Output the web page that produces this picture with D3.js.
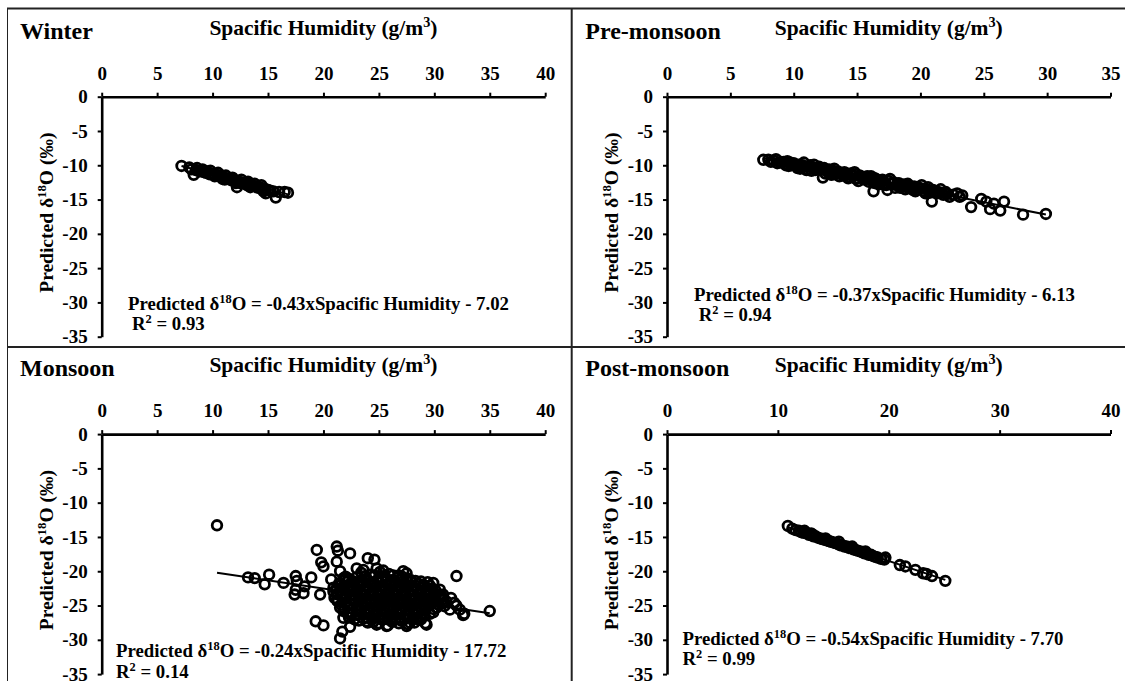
<!DOCTYPE html>
<html>
<head>
<meta charset="utf-8">
<script src="https://cdn.jsdelivr.net/npm/d3@7"></script>
<style>
  body { margin: 0; background: #fff; }
  svg text { font-family: "Liberation Serif", "Times New Roman", serif; font-weight: bold; fill: #000; }
</style>
</head>
<body>
<div id="main"></div>
<script>
// ---- data ----
const seasons = ["Winter", "Pre-monsoon", "Monsoon", "Post-monsoon"];
const xMaxes = [40, 35, 40, 40];
const xTickValues = [
    [0, 5, 10, 15, 20, 25, 30, 35, 40],
    [0, 5, 10, 15, 20, 25, 30, 35],
    [0, 5, 10, 15, 20, 25, 30, 35, 40],
    [0, 10, 20, 30, 40]
];
const yTickValues = [0, -5, -10, -15, -20, -25, -30, -35];
const slopes = [-0.43, -0.37, -0.24, -0.54];
const intercepts = [-7.02, -6.13, -17.72, -7.70];
const rSquared = ["0.93", "0.94", "0.14", "0.99"];

const winterPts = [
    [7.2,-10.1],[7.9,-10.3],[8.1,-10.6],[8.3,-11.4],[8.5,-10.7],[8.8,-10.9],[9.0,-10.8],[9.2,-11.0],
    [9.4,-11.1],[9.5,-10.9],[9.7,-11.3],[9.9,-11.2],[10.1,-11.3],[10.2,-11.6],[10.4,-11.4],[10.6,-11.6],
    [10.8,-11.5],[11.0,-11.8],[11.1,-12.1],[11.3,-11.9],[11.5,-12.0],[11.7,-12.2],[11.9,-12.1],[12.0,-12.4],
    [12.2,-13.2],[12.3,-12.3],[12.5,-12.6],[12.7,-12.5],[12.9,-12.6],[13.1,-12.9],[13.3,-12.7],[13.5,-13.0],
    [13.7,-13.0],[13.9,-13.1],[14.1,-13.3],[14.3,-13.2],[14.5,-13.5],[14.7,-13.4],[14.8,-14.1],[15.0,-13.6],
    [15.2,-13.7],[15.5,-13.8],[15.7,-14.7],[16.0,-13.9],[16.5,-13.9],[16.8,-14.0],
    [8.6,-10.4],[9.1,-10.6],[9.8,-10.8],[10.5,-11.1],[11.2,-11.5],[11.8,-11.8],[12.6,-12.1],[13.2,-12.4],
    [13.8,-12.7],[14.4,-12.9],[10.9,-12.0],[12.1,-12.6],[13.4,-13.2],[14.6,-13.8]
];

const preMonsoonPts = [
    [7.6,-9.2],[8.6,-9.1],[8.7,-9.7],[9.0,-9.5],[9.3,-9.8],[9.5,-9.4],[9.8,-10.0],[10.0,-9.7],
    [10.2,-10.1],[10.4,-9.9],[10.6,-10.3],[10.8,-9.6],[11.0,-10.2],[11.1,-10.6],[11.3,-10.0],[11.5,-10.4],
    [11.7,-10.7],[11.9,-10.3],[12.1,-10.6],[12.3,-11.8],[12.4,-10.4],[12.6,-10.9],[12.8,-10.6],[13.0,-11.1],
    [13.1,-10.8],[13.3,-11.3],[13.5,-10.9],[13.7,-11.2],[13.9,-11.5],[14.0,-11.0],[14.2,-11.4],[14.4,-11.7],
    [14.5,-11.2],[14.7,-11.6],[14.9,-11.3],[15.0,-11.9],[15.2,-11.5],[15.4,-11.8],[15.6,-12.1],[15.8,-11.6],
    [16.0,-12.0],[16.2,-12.3],[16.3,-13.8],[16.4,-11.9],[16.6,-12.2],[16.8,-12.5],[17.0,-12.1],[17.2,-12.6],
    [17.4,-13.6],[17.5,-12.3],[17.7,-12.7],[17.9,-12.5],[18.1,-12.9],[18.3,-12.6],[18.5,-13.1],[18.7,-12.8],
    [18.9,-13.2],[19.1,-13.0],[19.3,-13.4],[19.5,-13.1],[19.7,-13.6],[19.9,-13.3],[20.1,-12.9],[20.3,-13.8],
    [20.5,-13.5],[20.7,-14.0],[20.9,-15.3],[21.0,-13.6],[21.3,-14.1],[21.6,-13.5],[21.8,-14.3],[22.1,-14.2],
    [22.3,-14.6],[22.9,-14.1],[23.1,-14.6],[23.3,-14.4],[24.0,-16.1],[24.8,-14.9],[25.2,-15.3],[25.5,-16.4],
    [25.8,-15.6],[26.3,-16.6],[26.6,-15.3],[28.1,-17.2],[29.9,-17.1],
    [8.2,-9.5],[9.6,-10.1],[10.5,-10.5],[11.4,-10.8],[12.0,-10.2],[12.9,-11.3],[13.6,-11.6],[14.3,-11.9],
    [15.1,-12.3],[15.9,-12.4],[16.7,-12.8],[17.3,-12.9],[18.0,-13.3],[18.8,-13.5],[19.6,-13.8],[20.4,-14.1],
    [11.6,-9.9],[13.2,-10.5],[14.8,-11.0],[16.1,-11.6],[17.6,-12.0],[19.0,-12.7],[20.6,-13.2],[21.4,-13.9],
    [8.0,-9.2],[8.4,-9.3],[8.9,-9.6],[9.2,-9.5],[9.7,-9.6],[10.1,-9.9],[10.7,-10.0],[11.2,-10.2],
    [11.8,-10.5],[12.2,-10.5],[12.7,-10.7],[13.4,-11.0],[13.8,-11.2],[14.1,-11.2],[14.6,-11.4],[15.3,-11.6],
    [15.7,-11.8],[16.5,-12.0],[16.9,-12.3],[17.8,-12.6],[18.2,-12.7],[18.6,-12.9],[19.2,-13.1],[19.8,-13.2],
    [20.2,-13.4],[20.8,-13.7],[21.2,-13.8],[21.7,-14.0],[22.0,-13.9],[22.6,-14.3],[9.4,-10.0],[10.3,-10.4],
    [11.0,-10.7],[12.5,-11.2],[13.0,-11.4],[14.9,-12.0],[16.4,-12.6],[17.1,-12.8],[18.4,-13.3],[19.4,-13.6]
];

const monsoonPts = [
    [10.4,-13.3],[13.2,-20.9],[13.8,-21.0],[14.7,-21.9],[15.1,-20.5],[16.4,-21.7],[17.5,-20.7],[17.6,-21.4],
    [17.5,-22.7],[18.2,-23.2],[18.3,-22.2],[18.9,-20.9],[17.4,-23.4],[19.4,-16.9],[19.8,-18.7],[20.0,-19.3],
    [19.7,-23.4],[19.3,-27.3],[20.0,-27.9],[21.2,-16.4],[21.3,-17.0],[21.2,-18.6],[22.4,-17.4],[21.5,-29.8],
    [21.7,-28.8],[22.4,-28.1],[20.7,-21.2],[20.9,-22.4],[21.5,-20.0],[21.8,-21.0],[24.0,-18.1],[24.6,-18.3],
    [32.0,-20.7],[35.0,-25.8],[32.6,-26.4],[31.4,-25.6],[32.0,-25.0],[27.2,-20.0],[24.8,-19.6],[25.4,-19.9],
    [23.6,-19.8],[25.7,-28.0],[27.5,-28.0],[29.3,-27.8],[24.8,-27.8],[23.9,-27.3],[21.8,-26.8],[22.4,-26.3],
    [29.9,-21.7],[30.5,-22.7],[30.8,-23.4],[31.1,-24.4],[22.0,-20.8],[23.0,-19.6],[31.5,-23.9],[30.9,-25.1],
    [31.8,-24.6],[32.3,-25.6],[32.7,-26.2],
    [23.4,-20.2],[24.2,-20.5],[25.1,-20.1],[25.9,-20.4],[26.8,-20.6],[27.5,-20.3],
    [22.3,-21.1],[23.0,-20.9],[23.8,-21.2],[24.5,-20.8],[25.3,-21.0],[26.1,-21.3],[26.7,-20.9],[27.6,-21.1],[28.3,-21.4],
    [21.4,-21.8],[22.1,-21.5],[22.8,-21.9],[23.5,-21.6],[24.3,-21.8],[25.0,-21.5],[25.7,-21.9],[26.4,-21.6],
    [27.2,-21.8],[27.9,-21.5],[28.6,-21.9],[29.4,-21.6],
    [21.2,-22.5],[21.9,-22.2],[22.6,-22.6],[23.3,-22.3],[24.0,-22.5],[24.8,-22.2],[25.5,-22.6],[26.2,-22.3],
    [26.9,-22.5],[27.7,-22.2],[28.4,-22.6],[29.1,-22.3],[29.8,-22.5],
    [20.9,-23.0],[21.6,-23.3],[22.3,-22.9],[23.0,-23.2],[23.8,-23.0],[24.5,-23.3],[25.2,-22.9],[25.9,-23.2],
    [26.6,-23.0],[27.4,-23.3],[28.1,-22.9],[28.8,-23.2],[29.5,-23.0],[30.2,-23.3],
    [21.0,-23.9],[21.7,-23.6],[22.4,-24.0],[23.2,-23.7],[23.9,-23.9],[24.6,-23.6],[25.4,-24.0],[26.1,-23.7],
    [26.8,-23.9],[27.5,-23.6],[28.3,-24.0],[29.0,-23.7],[29.7,-23.9],[30.4,-23.6],
    [21.3,-24.4],[22.0,-24.7],[22.8,-24.3],[23.5,-24.6],[24.2,-24.4],[25.0,-24.7],[25.7,-24.3],[26.4,-24.6],
    [27.1,-24.4],[27.9,-24.7],[28.6,-24.3],[29.3,-24.6],[30.0,-24.4],[30.7,-24.7],
    [21.5,-25.3],[22.2,-25.0],[23.0,-25.4],[23.7,-25.1],[24.4,-25.3],[25.2,-25.0],[25.9,-25.4],[26.6,-25.1],
    [27.3,-25.3],[28.0,-25.0],[28.8,-25.4],[29.5,-25.1],[30.2,-25.3],
    [21.8,-25.8],[22.6,-26.1],[23.4,-25.7],[24.1,-26.0],[24.8,-25.8],[25.6,-26.1],[26.3,-25.7],[27.0,-26.0],
    [27.7,-25.8],[28.5,-26.1],[29.2,-25.7],[29.9,-26.0],
    [22.3,-26.7],[23.1,-26.4],[24.0,-26.8],[24.7,-26.5],[25.4,-26.7],[26.1,-26.4],[26.9,-26.8],[27.6,-26.5],
    [28.4,-26.7],[29.1,-26.4],
    [23.2,-27.2],[24.5,-27.4],[25.3,-27.1],[26.2,-27.4],[27.0,-27.2],[27.8,-27.5],[28.6,-27.1],
    [25.8,-27.9],[27.6,-27.7],[29.2,-27.6],
    [23.8,-20.7],[24.6,-20.6],[25.5,-20.7],[26.3,-20.6],[27.1,-20.8],
    [21.9,-21.3],[22.6,-21.4],[23.4,-21.3],[24.1,-21.4],[24.9,-21.3],[25.7,-21.4],[26.4,-21.3],[27.2,-21.4],
    [27.9,-21.3],[28.8,-21.5],
    [21.6,-22.0],[22.4,-22.1],[23.1,-22.0],[23.9,-22.1],[24.6,-22.0],[25.3,-22.1],[26.1,-22.0],[26.8,-22.1],
    [27.5,-22.0],[28.3,-22.1],[29.0,-22.0],[29.6,-22.1],
    [21.5,-22.8],[22.2,-22.7],[23.0,-22.8],[23.7,-22.7],[24.4,-22.8],[25.1,-22.7],[25.9,-22.8],[26.6,-22.7],
    [27.3,-22.8],[28.0,-22.7],[28.8,-22.8],[29.5,-22.7],[30.1,-22.8],
    [21.3,-23.4],[22.0,-23.5],[22.7,-23.4],[23.5,-23.5],[24.2,-23.4],[24.9,-23.5],[25.6,-23.4],[26.4,-23.5],
    [27.1,-23.4],[27.8,-23.5],[28.6,-23.4],[29.3,-23.5],[30.0,-23.4],[30.6,-23.5],
    [21.2,-24.2],[21.9,-24.1],[22.7,-24.2],[23.5,-24.1],[24.2,-24.2],[25.0,-24.1],[25.7,-24.2],[26.4,-24.1],
    [27.2,-24.2],[27.9,-24.1],[28.6,-24.2],[29.3,-24.1],[30.1,-24.2],[30.8,-24.1],
    [21.6,-24.9],[22.4,-24.8],[23.1,-24.9],[23.9,-24.8],[24.6,-24.9],[25.3,-24.8],[26.0,-24.9],[26.8,-24.8],
    [27.5,-24.9],[28.2,-24.8],[29.0,-24.9],[29.7,-24.8],[30.4,-24.9],
    [21.9,-25.6],[22.6,-25.5],[23.3,-25.6],[24.1,-25.5],[24.8,-25.6],[25.5,-25.5],[26.3,-25.6],[27.0,-25.5],
    [27.7,-25.6],[28.4,-25.5],[29.1,-25.6],[29.9,-25.5],
    [22.2,-26.2],[23.0,-26.3],[23.8,-26.2],[24.5,-26.3],[25.2,-26.2],[26.0,-26.3],[26.7,-26.2],[27.4,-26.3],
    [28.1,-26.2],[28.9,-26.3],[29.6,-26.2],
    [22.8,-27.0],[23.6,-26.9],[24.4,-27.0],[25.1,-26.9],[25.8,-27.0],[26.5,-26.9],[27.3,-27.0],[28.0,-26.9],
    [28.8,-27.0],
    [24.0,-27.5],[25.0,-27.6],[26.8,-27.6],[28.2,-27.5]
];

const postMonsoonPts = [
    [10.9,-13.4],[11.3,-13.8],[11.6,-14.0],[11.9,-14.1],[12.1,-14.3],[12.3,-14.4],[12.6,-14.4],[12.8,-14.7],
    [13.0,-14.5],[13.2,-14.9],[13.4,-14.9],[13.6,-15.1],[13.8,-15.2],[14.0,-15.3],[14.2,-15.4],[14.4,-15.5],
    [14.6,-15.6],[14.8,-15.7],[15.0,-15.8],[15.2,-15.9],[15.4,-16.0],[15.6,-16.2],[15.8,-16.2],[16.0,-16.4],
    [16.2,-16.4],[16.4,-16.6],[16.6,-16.6],[16.8,-16.8],[17.0,-16.9],[17.2,-17.0],[17.4,-17.1],[17.6,-17.2],
    [17.8,-17.4],[18.0,-17.4],[18.2,-17.6],[18.4,-17.6],[18.6,-17.8],[18.8,-17.9],[19.0,-18.0],[19.3,-18.2],
    [19.6,-18.3],[19.7,-18.0],[21.0,-19.1],[21.5,-19.3],[22.4,-19.8],[23.1,-20.3],[23.4,-20.4],[23.9,-20.7],
    [25.1,-21.4],[12.4,-14.1],[13.1,-14.6],[14.3,-15.2],[15.5,-15.7],[16.7,-16.4],[17.9,-17.1]
];

const seriesPts = [winterPts, preMonsoonPts, monsoonPts, postMonsoonPts];

// ---- layout ----
const W = 1125, H = 681;
const panelOrigin = [[0, 0], [565.3, 0], [0, 337.4], [565.3, 337.4]];
const plot = { left: 101.7, top: 96.7, width: 443.5, height: 240 };
const eqPos = [[128, 310, 132, 330], [128.7, 301, 133.4, 321], [116, 319.5, 116, 340.5], [117.2, 308, 117.2, 328]];

// text with superscript parts: parts = [[string, isSup], ...]
function richText(sel, parts, size) {
    let shift = 0;
    parts.forEach(([t, sup]) => {
        const target = sup ? -size * 0.38 : 0;
        sel.append("tspan")
            .attr("font-size", sup ? size * 0.66 : size)
            .attr("dy", target - shift)
            .text(t);
        shift = target;
    });
    return sel;
}

const svg = d3.select("#main").append("svg")
    .attr("width", W)
    .attr("height", H);

svg.append("rect").attr("width", W).attr("height", H).attr("fill", "#fff");

seasons.forEach((season, i) => {
    const [ox, oy] = panelOrigin[i];
    const g = svg.append("g").attr("transform", `translate(${ox},${oy})`);

    const x = d3.scaleLinear().domain([0, xMaxes[i]]).range([plot.left, plot.left + plot.width]);
    const y = d3.scaleLinear().domain([-35, 0]).range([plot.top + plot.height, plot.top]);

    // season title
    g.append("text").attr("x", 20).attr("y", 39).attr("font-size", 24).text(season);

    // x axis title
    richText(g.append("text")
        .attr("x", plot.left + plot.width / 2).attr("y", 35)
        .attr("text-anchor", "middle"),
        [["Spacific Humidity (g/m", false], ["3", true], [")", false]], 21.5);

    // y axis title
    richText(g.append("text")
        .attr("transform", `translate(53,${plot.top + plot.height / 2 - 4}) rotate(-90)`)
        .attr("text-anchor", "middle"),
        [["Predicted δ", false], ["18", true], ["O (‰)", false]], 19.5);

    const xAxis = d3.axisTop(x).tickValues(xTickValues[i]).tickFormat(d => String(d))
        .tickSize(4).tickSizeOuter(0).tickPadding(13);
    const yAxis = d3.axisLeft(y).tickValues(yTickValues).tickFormat(d => String(d))
        .tickSize(4).tickSizeOuter(0).tickPadding(10);

    const gx = g.append("g").attr("transform", `translate(0,${plot.top})`).call(xAxis);
    const gy = g.append("g").attr("transform", `translate(${plot.left},0)`).call(yAxis);
    [gx, gy].forEach(a => {
        a.attr("font-family", null).attr("font-size", null);
        a.select(".domain").attr("stroke", "#000").attr("stroke-width", 2.6);
        a.selectAll(".tick line").attr("stroke", "#000").attr("stroke-width", 2);
        a.selectAll(".tick text").attr("font-size", 19);
    });

    // points
    g.append("g").selectAll("circle")
        .data(seriesPts[i])
        .join("circle")
        .attr("cx", d => x(d[0]))
        .attr("cy", d => y(d[1]))
        .attr("r", 4.8)
        .attr("fill", "none")
        .attr("stroke", "#000")
        .attr("stroke-width", 2.8);

    // trend line over the data range
    const xr = d3.extent(seriesPts[i], d => d[0]);
    g.append("line")
        .attr("x1", x(xr[0])).attr("y1", y(slopes[i] * xr[0] + intercepts[i]))
        .attr("x2", x(xr[1])).attr("y2", y(slopes[i] * xr[1] + intercepts[i]))
        .attr("stroke", "#000")
        .attr("stroke-width", 2);

    // equation
    const [ex, ey, rx, ry] = eqPos[i];
    richText(g.append("text").attr("x", ex).attr("y", ey),
        [["Predicted δ", false], ["18", true],
         [`O = ${slopes[i].toFixed(2)}xSpacific Humidity - ${Math.abs(intercepts[i]).toFixed(2)}`, false]], 18.8);
    richText(g.append("text").attr("x", rx).attr("y", ry),
        [["R", false], ["2", true], [` = ${rSquared[i]}`, false]], 18.8);
});

// panel frame
const frame = svg.append("g").attr("stroke", "#222").attr("fill", "none");
frame.append("line").attr("x1", 7.5).attr("x2", 7.5).attr("y1", 8).attr("y2", H);
frame.append("line").attr("x1", 7).attr("x2", W).attr("y1", 8.5).attr("y2", 8.5).attr("stroke-width", 1.8);
frame.append("line").attr("x1", 571.7).attr("x2", 571.7).attr("y1", 8).attr("y2", H).attr("stroke-width", 2);
frame.append("line").attr("x1", 7).attr("x2", W).attr("y1", 347).attr("y2", 347).attr("stroke-width", 2);
</script>
</body>
</html>
